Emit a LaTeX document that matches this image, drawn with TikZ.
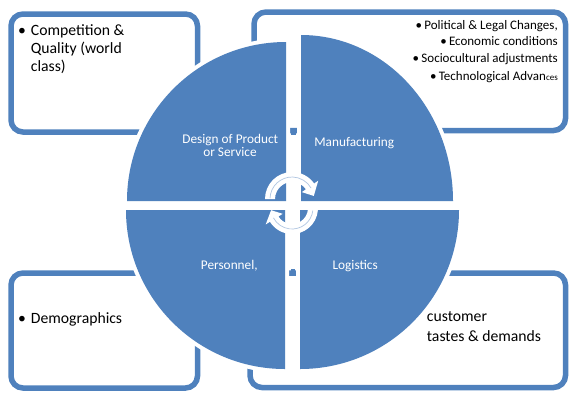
\documentclass[tikz,border=0pt]{standalone}
\usepackage{fontspec}
\setmainfont{Carlito}
\usetikzlibrary{calc}
\definecolor{cb}{HTML}{4F81BD}
\tikzset{
  box/.style={draw=cb, line width=5.5pt, rounded corners=12pt},
  quad/.style={fill=cb, preaction={draw=white, line width=8pt, line join=round}},
  big/.style={font=\fontsize{15.7}{18}\selectfont, inner sep=0pt, text=black},
  smalltxt/.style={font=\fontsize{13}{15}\selectfont, inner sep=0pt, text=black, anchor=base east},
  lab/.style={font=\fontsize{13.3}{15}\selectfont, inner sep=0pt, text=white, anchor=base},
  sq/.style={fill=cb, minimum size=4.8pt, inner sep=0pt},
  cycarrow/.style={fill=white},
  cycline/.style={draw=cb!45, line width=0.7pt}
}
\newcommand{\bulA}{\makebox[12.7pt][l]{•}}
\newcommand{\bulB}{\makebox[8.7pt][l]{•}}
\begin{document}
\begin{tikzpicture}[x=1pt,y=1pt,yscale=-1]
\useasboundingbox (0,0) rectangle (569,392);
% outer boxes
\draw[box] (11,14) rectangle (197.5,132);
\draw[box] (254,12) rectangle (565.5,130.5);
\draw[box] (11,273) rectangle (197.5,388);
\draw[box] (250,273) rectangle (565.5,387.5);
% circle quadrants
\path[quad] (286,201) -- (127,201) arc[start angle=180, end angle=270, radius=159] -- cycle;
\path[quad] (301,201) -- (301,35) arc[start angle=270, end angle=360, x radius=152, y radius=166] -- cycle;
\path[quad] (300,210) -- (459,210) arc[start angle=0, end angle=90, radius=159] -- cycle;
\path[quad] (285,210) -- (285,369) arc[start angle=90, end angle=180, radius=159] -- cycle;
% quadrant labels
\node[lab] (d1) at (230.3,143.3) {Design of Product};
\node[lab] (d2) at (230,156.7) {or Service};
\node[lab] (m) at (354.3,146.7) {Manufacturing};
\node[lab] (p) at (229.3,269.3) {Personnel,};
\node[lab] (l) at (355.2,269.3) {Logistics};
% small squares
\node[sq] (s1) at (293.5,132.5) {};
\node[sq] (s2) at (293,271) {};
% cycle arrows
\coordinate (ca) at (292,199);
\coordinate (cc) at (292,208);
\path[cycarrow] ($(ca)+(180:27)$) arc[start angle=180, end angle=325, radius=27]
  -- ($(ca)+(325:32)$) -- ($(ca)+(352:22)$) -- ($(ca)+(325:12)$) -- ($(ca)+(325:17)$)
  arc[start angle=325, end angle=180, radius=17] -- cycle;
\draw[cycline] ($(ca)+(182:22)$) arc[start angle=182, end angle=330, radius=22];
\path[cycarrow] ($(cc)+(5:26)$) arc[start angle=5, end angle=148, radius=26]
  -- ($(cc)+(148:31)$) -- ($(cc)+(174:21)$) -- ($(cc)+(148:11)$) -- ($(cc)+(148:16)$)
  arc[start angle=148, end angle=5, radius=16] -- cycle;
\draw[cycline] ($(cc)+(7:21)$) arc[start angle=7, end angle=152, radius=21];
% box texts
\node[big, anchor=base west] (c1) at (18,35) {\bulA Competition \&};
\node[big, anchor=base west] (c2) at (30.7,53.3) {Quality (world};
\node[big, anchor=base west] (c3) at (30.7,71.6) {class)};
\node[smalltxt] (e1) at (558,29.3) {\bulB Political \& Legal Changes,};
\node[smalltxt] (e2) at (558,45.7) {\bulB Economic conditions};
\node[smalltxt] (e3) at (558,62.3) {\bulB Sociocultural adjustments};
\node[smalltxt] (e4) at (558,80) {\bulB Technological Advan{\fontsize{9}{10}\selectfont ces}};
\node[big, anchor=base west] (dm) at (18,323.3) {\bulA Demographics};
\node[big, anchor=base west] (cu1) at (426.7,321.7) {customer};
\node[big, anchor=base west] (cu2) at (426.7,341.7) {tastes \& demands};
\end{tikzpicture}
\end{document}
